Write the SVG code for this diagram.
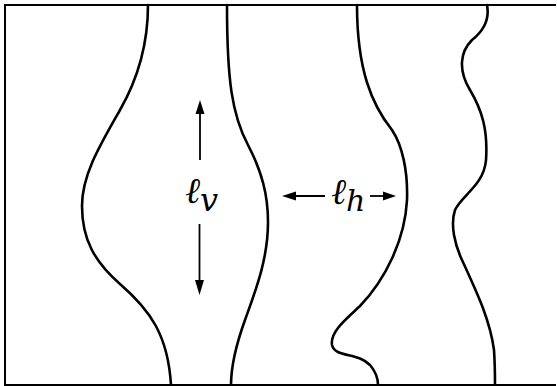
<svg xmlns="http://www.w3.org/2000/svg" width="557" height="386" viewBox="0 0 557 386">
<style>
.c{fill:none;stroke:#000;stroke-width:2.6;stroke-linecap:round}
.f{fill:none;stroke:#000;stroke-width:2}
.a{stroke:#000;stroke-width:1.8;fill:none}
.h{fill:#000}
.t{font-family:"DejaVu Serif","Liberation Serif",serif;font-style:italic;fill:#000}
</style>
<rect width="557" height="386" fill="#fff"/>
<g id="frame">
<path class="f" d="M556,5 H5 V385 H556"/>
</g>
<g id="walls">
<path id="wall1" class="c" d="M148,5 C148,40 140,75 120,110 C100,145 82,175 82,206 C82,240 95,262 120,284 C150,310 168,335 171,385"/>
<path id="wall2" class="c" d="M227,5 C227,80 232,115 248,145 C262,172 268,195 268,222 C268,260 255,292 245,320 C236,345 231,365 231,385"/>
<path id="wall3" class="c" d="M357,5 C357,70 372,105 392,130 C402,145 408,170 407,200 C405,240 385,280 360,306 C345,320 330,332 332,345 C335,358 358,352 370,365 C376,372 378,378 378,385"/>
<path id="wall4" class="c" d="M487,5 C490,20 482,32 472,40 C460,52 458,70 470,90 C482,110 488,130 486,160 C484,185 462,195 455,210 C450,225 455,245 462,260 C478,295 490,320 494,350 C495,365 495,375 495,385"/>
</g>
<g id="connectors">
<line class="a" x1="200" y1="112" x2="200" y2="160"/>
<path class="h" d="M200,100 L195.5,114 L204.5,114 Z"/>
<line class="a" x1="199.5" y1="224" x2="199.5" y2="282"/>
<path class="h" d="M199.5,295 L195,280 L204,280 Z"/>
<line class="a" x1="292" y1="196" x2="325" y2="196"/>
<path class="h" d="M282,196 L296,191.5 L296,200.5 Z"/>
<line class="a" x1="370" y1="196" x2="386" y2="196"/>
<path class="h" d="M396,196 L383,191.5 L383,200.5 Z"/>
</g>
<g id="label-lv">
<text class="t" x="185" y="203" font-size="36">ℓ<tspan font-size="32" dy="8">v</tspan></text>
</g>
<g id="label-lh">
<text class="t" x="331" y="204" font-size="36">ℓ<tspan font-size="30" dy="7">h</tspan></text>
</g>
</svg>
